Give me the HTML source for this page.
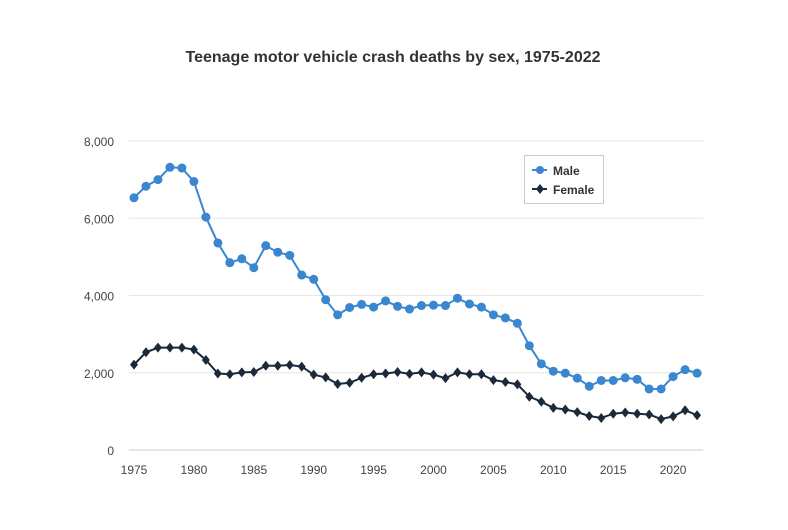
<!DOCTYPE html>
<html><head><meta charset="utf-8"><style>
body{margin:0;background:#fff;width:788px;height:525px;overflow:hidden;font-family:"Liberation Sans",sans-serif}
</style></head><body>
<svg id="chart" width="788" height="525">
<text x="393" y="62" text-anchor="middle" font-size="16" font-weight="bold" fill="#333">Teenage motor vehicle crash deaths by sex, 1975-2022</text>
<g id="grid"></g><g id="series"></g>
<g>
<rect x="524.5" y="155.5" width="79" height="48" fill="#fff" stroke="#ccc"/>
<line x1="532" y1="170" x2="547" y2="170" stroke="#3a86cf" stroke-width="2"/>
<circle cx="540" cy="170" r="4" fill="#3a86cf"/>
<text x="553" y="175" font-size="12" font-weight="bold" fill="#333">Male</text>
<line x1="532" y1="189" x2="547" y2="189" stroke="#1b2a3a" stroke-width="2"/>
<path d="M540 184L544 189L540 194L536 189Z" fill="#1b2a3a"/>
<text x="553" y="194" font-size="12" font-weight="bold" fill="#333">Female</text>
</g>
</svg>
<script>
const years=[];for(let y=1975;y<=2022;y++)years.push(y);
const male=[6530,6830,7000,7320,7300,6950,6030,5360,4850,4950,4720,5290,5120,5040,4530,4420,3890,3500,3690,3770,3700,3860,3720,3650,3740,3750,3740,3930,3780,3700,3500,3420,3280,2700,2230,2040,1990,1860,1650,1800,1800,1870,1830,1580,1580,1900,2080,1990];
const female=[2210,2530,2650,2650,2650,2600,2330,1980,1960,2010,2020,2180,2180,2200,2160,1950,1880,1710,1740,1870,1960,1980,2020,1970,2010,1950,1860,2010,1960,1960,1810,1760,1700,1380,1250,1090,1050,980,880,830,940,970,940,920,800,870,1030,900];
const yTicks=[0,2000,4000,6000,8000];
const yTickLabels=["0","2,000","4,000","6,000","8,000"];
const xTicks=[1975,1980,1985,1990,1995,2000,2005,2010,2015,2020];
const NS="http://www.w3.org/2000/svg";
const X=v=>134+(v-1975)*11.98;
const Y=v=>450-v*(309/8000);
function mk(t,a,p){const e=document.createElementNS(NS,t);for(const k in a)e.setAttribute(k,a[k]);p.appendChild(e);return e;}
const g=document.getElementById('grid'),s=document.getElementById('series');
yTicks.forEach((v,i)=>{
 const l=mk('line',{x1:129,x2:703,y1:Y(v),y2:Y(v),stroke:i==0?'#ccc':'#e6e6e6','stroke-width':1},g);
 
 
 const t=mk('text',{x:114,y:Y(v)+5,'text-anchor':'end','font-size':12,fill:'#444'},g);t.textContent=yTickLabels[i];
 
 
});
xTicks.forEach(v=>{
 const t=mk('text',{x:X(v),y:474,'text-anchor':'middle','font-size':12,fill:'#444'},g);t.textContent=v;
 
 
});
function series(data,color,shape,name){
 const p=mk('polyline',{points:data.map((v,i)=>X(years[i])+','+Y(v)).join(' '),fill:'none',stroke:color,'stroke-width':2},s);
 
 
 data.forEach((v,i)=>{
  const x=X(years[i]),y=Y(v);let m;
  if(shape=='c')m=mk('circle',{cx:x,cy:y,r:4.5,fill:color},s);
  else m=mk('path',{d:`M${x} ${y-5}L${x+4} ${y}L${x} ${y+5}L${x-4} ${y}Z`,fill:color},s);
  
  
 });
}
series(male,'#3a86cf','c','male');
series(female,'#1b2a3a','d','female');
</script>
</body></html>
